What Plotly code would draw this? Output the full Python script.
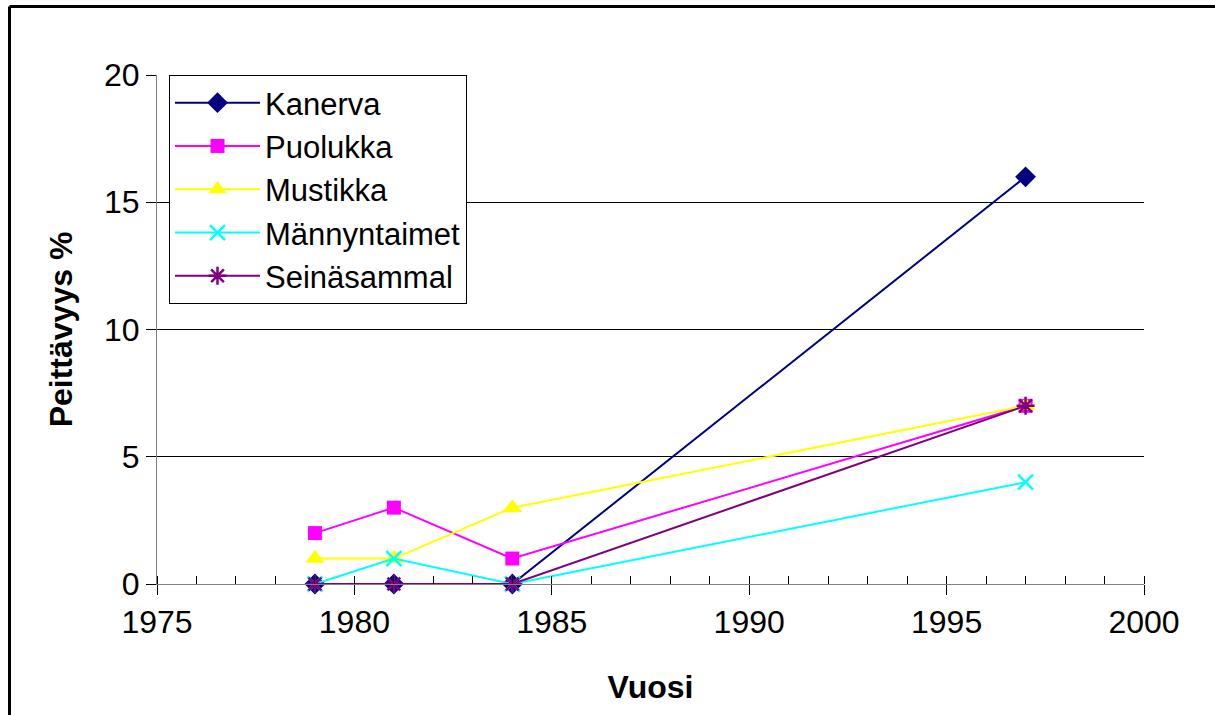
import plotly.graph_objects as go

years = [1979, 1981, 1984, 1997]
kanerva = [0, 0, 0, 16]
puolukka = [2, 3, 1, 7]
mustikka = [1, 1, 3, 7]
mannyntaimet = [0, 1, 0, 4]
seinasammal = [0, 0, 0, 7]

series = [
    ("Kanerva", kanerva, "#000080", "diamond", 16),
    ("Puolukka", puolukka, "#FF00FF", "square", 14),
    ("Mustikka", mustikka, "#FFFF00", "triangle-up", 17),
    ("Männyntaimet", mannyntaimet, "#00FFFF", "x-thin-open", 15),
    ("Seinäsammal", seinasammal, "#800080", "asterisk-open", 15),
]

FONT = "Arial, Liberation Sans, sans-serif"

fig = go.Figure()
for name, vals, color, sym, size in series:
    marker = dict(symbol=sym, size=size, color=color)
    if sym.endswith("open"):
        marker["line"] = dict(color=color, width=2.5)
    fig.add_trace(go.Scatter(
        x=years, y=vals, name=name, mode="lines+markers",
        line=dict(color=color, width=2), marker=marker, cliponaxis=False,
    ))

L, R, T, B = 157, 71, 75, 131
W, H = 1215, 715
pw, ph = W - L - R, H - T - B

fig.update_layout(
    width=W, height=H,
    margin=dict(l=L, r=R, t=T, b=B, pad=0),
    paper_bgcolor="white", plot_bgcolor="white",
    font=dict(family=FONT, size=32, color="black"),
    showlegend=True,
    legend=dict(
        x=(169 - L) / pw, y=1, xanchor="left", yanchor="top",
        bgcolor="white", bordercolor="black", borderwidth=1,
        font=dict(family=FONT, size=31, color="black"),
        itemwidth=85, tracegroupgap=0,
    ),
    xaxis=dict(
        range=[1975, 2000], dtick=5, tick0=1975,
        showgrid=False, zeroline=False,
        showline=True, linecolor="#808080", linewidth=1,
        ticks="outside", ticklen=10, tickcolor="black", tickwidth=1,
        minor=dict(dtick=1, ticks="inside", ticklen=8, tickcolor="black", tickwidth=1, showgrid=False),
        tickfont=dict(family=FONT, size=32),
        title=dict(text="<b>Vuosi</b>", font=dict(family=FONT, size=32), standoff=36),
    ),
    yaxis=dict(
        range=[0, 20], dtick=5,
        showgrid=True, gridcolor="black", gridwidth=1, zeroline=False,
        showline=True, linecolor="#808080", linewidth=1,
        ticks="outside", ticklen=10, tickcolor="black", tickwidth=1,
        tickfont=dict(family=FONT, size=32),
        title=dict(text="<b>Peittävyys %</b>", font=dict(family=FONT, size=32), standoff=21),
    ),
)

# outer chart border (left and top edges visible)
fig.add_shape(type="line", xref="paper", yref="paper",
              x0=(9.5 - L) / pw, x1=(W + 20 - L) / pw,
              y0=1 + (T - 6.5) / ph, y1=1 + (T - 6.5) / ph,
              line=dict(color="black", width=3))
fig.add_shape(type="line", xref="paper", yref="paper",
              x0=(9.5 - L) / pw, x1=(9.5 - L) / pw,
              y0=1 + (T - 6.5) / ph, y1=-(B + 20) / ph,
              line=dict(color="black", width=3))

fig.write_html(
    "out.html",
    config={"displayModeBar": False},
    post_script="document.body.style.margin='0';document.body.style.overflow='hidden';",
)
